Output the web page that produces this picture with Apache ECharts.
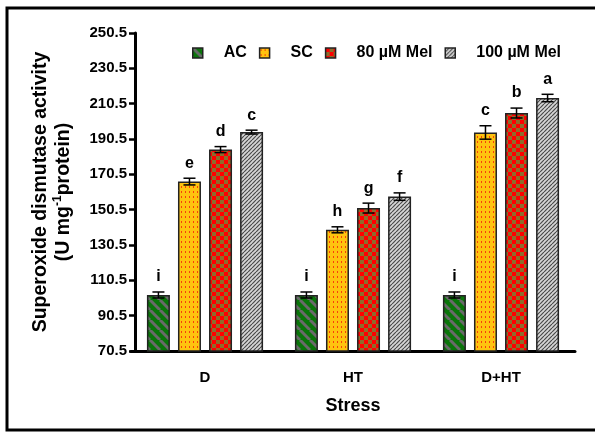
<!DOCTYPE html>
<html>
<head>
<meta charset="utf-8">
<script src="https://cdn.jsdelivr.net/npm/echarts@6/dist/echarts.min.js"></script>
<style>
html,body{margin:0;padding:0;background:#fff;}
#c{width:595px;height:432px;}
</style>
</head>
<body>
<div id="c"></div>
<script>
// ---- data ----
const categories = ['D', 'HT', 'D+HT'];
const seriesNames = ['AC', 'SC', '80 µM Mel', '100 µM Mel'];
const acValues = [102.2, 102.2, 102.2];
const scValues = [166.4, 139.1, 194.2];
const mel80Values = [184.5, 151.4, 205.2];
const mel100Values = [194.4, 157.9, 213.7];
const acErr = [1.7, 1.7, 1.7];
const scErr = [1.9, 1.7, 3.8];
const mel80Err = [1.7, 2.8, 2.8];
const mel100Err = [1.1, 2.1, 2.1];
const acLetters = ['i', 'i', 'i'];
const scLetters = ['e', 'h', 'c'];
const mel80Letters = ['d', 'g', 'b'];
const mel100Letters = ['c', 'f', 'a'];
const yTicks = [70.5, 90.5, 110.5, 130.5, 150.5, 170.5, 190.5, 210.5, 230.5, 250.5];

const allValues = [acValues, scValues, mel80Values, mel100Values];
const allErr = [acErr, scErr, mel80Err, mel100Err];
const allLetters = [acLetters, scLetters, mel80Letters, mel100Letters];

// ---- patterns ----
function mk(w, h, draw) {
  const c = document.createElement('canvas');
  c.width = w; c.height = h;
  const g = c.getContext('2d');
  draw(g, w, h);
  return c;
}
const patAC = mk(10, 10, (g, w, h) => {
  g.fillStyle = '#0a750a'; g.fillRect(0, 0, w, h);
  g.strokeStyle = '#6a6a6a'; g.lineWidth = 3;
  for (let o = -10; o <= 10; o += 10) {
    g.beginPath(); g.moveTo(o, 0); g.lineTo(o + 10, 10); g.stroke();
  }
});
const patSC = mk(4, 5, (g, w, h) => {
  g.fillStyle = '#ffc30f'; g.fillRect(0, 0, w, h);
  g.fillStyle = '#f5420a'; g.fillRect(1, 1, 1, 2);
});
const patM80 = mk(8, 8, (g, w, h) => {
  g.fillStyle = '#8c6c2c'; g.fillRect(0, 0, w, h);
  g.fillStyle = '#ff0000'; g.fillRect(0, 0, 4, 4); g.fillRect(4, 4, 4, 4);
});
const patM100 = mk(4, 4, (g, w, h) => {
  g.fillStyle = '#d6d6d6'; g.fillRect(0, 0, w, h);
  g.strokeStyle = '#4a4a4a'; g.lineWidth = 1.2;
  for (let o = -4; o <= 4; o += 4) {
    g.beginPath(); g.moveTo(o, 4); g.lineTo(o + 4, 0); g.stroke();
  }
});
const patterns = [patAC, patSC, patM80, patM100];

const barW = 23;
const barGapPct = 0.35;
const pitch = barW * (1 + barGapPct);

const barSeries = seriesNames.map((name, i) => ({
  name: name,
  type: 'bar',
  data: allValues[i],
  barWidth: barW,
  barGap: (barGapPct * 100) + '%',
  itemStyle: {
    color: { image: patterns[i], repeat: 'repeat' },
    borderColor: '#222',
    borderWidth: 1.5
  }
}));

const errData = [];
for (let s = 0; s < 4; s++) {
  for (let c = 0; c < categories.length; c++) {
    errData.push([c, allValues[s][c], allErr[s][c], s, allLetters[s][c]]);
  }
}

const errSeries = {
  type: 'custom',
  name: 'err',
  data: errData,
  z: 10,
  renderItem: function (params, api) {
    const c = api.value(0), v = api.value(1), e = api.value(2), s = api.value(3);
    const letter = errData[params.dataIndex][4];
    const x = api.coord([c, v])[0] + (s - 1.5) * pitch;
    const yHi = api.coord([c, v + e])[1];
    const yLo = api.coord([c, v - e])[1];
    const cw = 6;
    const st = { stroke: '#000', lineWidth: 1.5 };
    return {
      type: 'group',
      children: [
        { type: 'line', shape: { x1: x, y1: yHi, x2: x, y2: yLo }, style: st },
        { type: 'line', shape: { x1: x - cw, y1: yHi, x2: x + cw, y2: yHi }, style: st },
        { type: 'line', shape: { x1: x - cw, y1: yLo, x2: x + cw, y2: yLo }, style: st },
        { type: 'text', x: x, y: yHi - 7,
          style: { text: letter, textAlign: 'center', textVerticalAlign: 'bottom',
                   font: 'bold 16px "Liberation Sans", Arial, sans-serif', fill: '#000' } }
      ]
    };
  }
};

const chart = echarts.init(document.getElementById('c'), null, { renderer: 'canvas' });
chart.setOption({
  animation: false,
  backgroundColor: '#fff',
  textStyle: { fontFamily: '"Liberation Sans", Arial, sans-serif' },
  grid: { left: 131, right: 20, top: 33, bottom: 81, containLabel: false },
  legend: {
    data: seriesNames,
    left: 192,
    top: 45,
    padding: 0,
    itemWidth: 10,
    itemHeight: 10,
    itemGap: 12,
    icon: 'rect',
    textStyle: { fontSize: 16, fontWeight: 'bold', color: '#000', padding: [0, 0, 0, 16] },
    itemStyle: { borderColor: '#222', borderWidth: 1.5 }
  },
  xAxis: {
    type: 'category',
    data: categories,
    name: 'Stress',
    nameLocation: 'middle',
    nameGap: 46,
    nameTextStyle: { fontSize: 18, fontWeight: 'bold', color: '#000' },
    axisLine: { lineStyle: { color: '#000', width: 3 } },
    axisTick: { show: false },
    axisLabel: { fontSize: 15, fontWeight: 'bold', color: '#000', margin: 19 }
  },
  yAxis: {
    type: 'value',
    offset: -4,
    min: yTicks[0],
    max: yTicks[yTicks.length - 1],
    interval: yTicks[1] - yTicks[0],
    name: '{a|Superoxide dismutase activity}\n{a|(U mg}{s|-1}{a|protein)}',
    nameLocation: 'middle',
    nameRotate: 90,
    nameGap: 60,
    nameTextStyle: {
      rich: {
        a: { fontSize: 19.5, fontWeight: 'bold', color: '#000', lineHeight: 23 },
        s: { fontSize: 12, fontWeight: 'bold', color: '#000', verticalAlign: 'top', lineHeight: 23, padding: [0, 0, 8, 0] }
      }
    },
    splitLine: { show: false },
    axisLine: { show: true, lineStyle: { color: '#000', width: 3 } },
    axisTick: { show: true, length: 6, lineStyle: { color: '#000', width: 2.5 } },
    axisLabel: {
      fontSize: 15, fontWeight: 'bold', color: '#000', margin: 8,
      formatter: v => v.toFixed(1)
    }
  },
  graphic: [{
    type: 'rect',
    shape: { x: 7, y: 8, width: 620, height: 422 },
    style: { fill: 'none', stroke: '#000', lineWidth: 3 },
    silent: true,
    z: 100
  }],
  series: barSeries.concat([errSeries])
});
</script>
</body>
</html>
